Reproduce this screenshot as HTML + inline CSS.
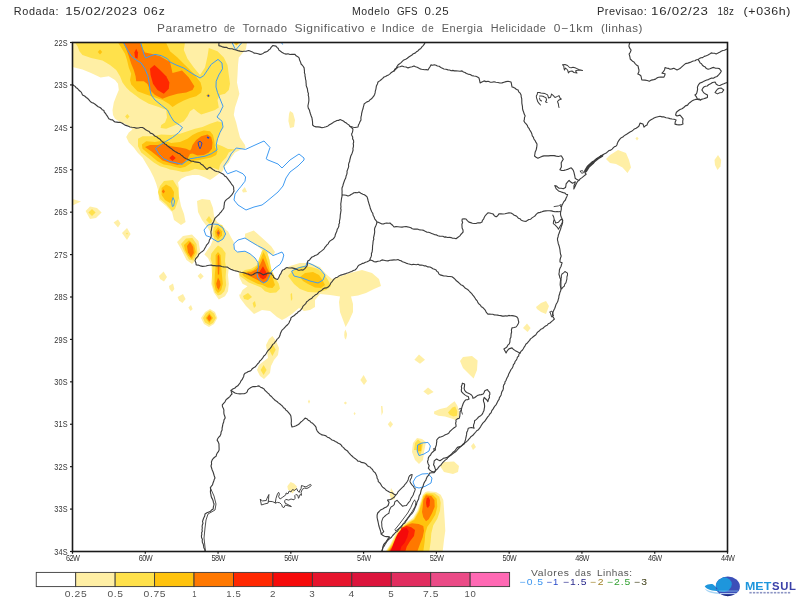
<!DOCTYPE html>
<html><head><meta charset="utf-8"><title>MetSul - Parametro de Tornado Significativo</title>
<style>html,body{margin:0;padding:0;background:#fff;}svg{display:block;}text{font-family:"Liberation Sans",sans-serif;}</style></head><body>
<svg width="800" height="601" viewBox="0 0 800 601">
<rect x="0" y="0" width="800" height="601" fill="#fff"/>
<defs><clipPath id="fr"><rect x="72.5" y="42.5" width="655" height="509"/></clipPath></defs>
<g clip-path="url(#fr)">
<polygon points="72.5,42.5 247.0,42.5 246.0,49.0 242.0,53.8 238.8,57.5 238.0,65.0 237.5,75.0 237.0,82.5 238.0,87.5 239.4,93.8 237.5,100.0 235.0,107.5 233.8,115.0 236.2,122.5 238.0,130.0 240.0,137.5 245.0,145.0 245.6,148.0 240.0,150.0 235.0,152.5 231.2,157.5 228.8,162.5 225.0,166.2 222.5,171.2 218.8,173.8 213.8,177.5 210.0,180.0 205.0,177.5 198.8,175.0 192.5,175.0 186.2,176.2 181.2,178.8 178.0,182.5 179.0,188.0 179.0,196.0 181.0,206.0 184.0,214.0 185.6,222.0 181.0,225.0 174.0,220.0 172.0,212.0 166.0,206.0 159.0,200.0 158.0,190.0 156.2,183.8 153.8,177.5 150.0,170.0 146.2,163.8 142.5,157.5 137.5,152.5 133.8,147.5 128.8,142.5 126.2,137.0 128.8,132.5 132.5,129.4 130.0,127.0 125.0,123.8 120.0,122.0 115.0,118.8 113.0,115.0 112.5,110.0 113.8,102.5 116.2,96.2 118.8,90.0 118.0,83.8 115.0,80.0 108.8,76.2 100.6,77.5 91.0,73.0 82.5,69.4 72.5,67.0" fill="#FFEFA5"/>
<polygon points="117.2,53.1 118.1,52.1 119.0,53.1 118.1,54.1" fill="#FFEFA5"/>
<polygon points="72.5,199.0 81.0,201.6 72.5,205.6" fill="#FFEFA5"/>
<polygon points="85.6,211.0 90.0,206.4 97.0,208.0 101.6,212.4 96.0,218.0 90.0,219.0" fill="#FFEFA5"/>
<polygon points="113.6,222.4 118.0,219.6 120.6,223.6 118.0,227.4" fill="#FFEFA5"/>
<polygon points="122.0,233.0 127.0,228.0 130.6,234.0 127.0,240.0" fill="#FFEFA5"/>
<polygon points="159.0,276.0 163.6,271.4 167.0,277.0 164.0,281.6 160.0,279.0" fill="#FFEFA5"/>
<polygon points="169.0,286.0 173.0,283.6 174.4,289.0 172.0,292.0 169.6,289.0" fill="#FFEFA5"/>
<polygon points="177.6,297.0 183.0,294.0 185.6,299.0 182.4,303.0 179.0,300.4" fill="#FFEFA5"/>
<polygon points="188.4,307.6 191.0,305.0 192.6,309.0 190.6,311.0" fill="#FFEFA5"/>
<polygon points="197.6,276.0 200.5,273.0 203.7,276.2 200.5,279.6" fill="#FFEFA5"/>
<polygon points="177.0,242.0 183.0,236.0 192.0,234.6 198.5,241.0 200.0,250.0 198.0,258.0 192.0,264.0 186.5,260.0 181.5,250.0" fill="#FFEFA5"/>
<polygon points="201.0,318.0 205.0,312.0 210.0,309.0 215.0,312.0 217.4,318.0 214.0,324.0 209.0,327.0 204.0,324.0" fill="#FFEFA5"/>
<polygon points="210.6,232.5 208.0,228.0 205.0,224.0 202.0,220.0 198.0,212.0 197.0,201.0 202.0,199.0 210.0,200.0 213.0,208.0 214.0,216.0 217.0,222.0 222.0,225.0 226.0,230.0 228.0,231.2 231.2,237.5 233.8,242.0 233.5,246.2 235.0,250.6 237.5,252.0 245.0,251.2 250.0,254.0 255.0,258.5 257.5,262.5 258.8,266.0 260.0,257.8 262.0,250.0 257.5,246.2 250.0,241.2 245.0,238.5 245.0,233.8 253.8,230.6 257.5,233.8 265.0,240.6 271.2,246.2 275.0,252.0 273.0,255.6 270.0,254.4 267.5,253.0 269.8,260.6 270.6,268.0 272.0,273.0 275.0,278.0 277.5,280.0 280.6,275.0 282.5,271.2 286.0,268.0 290.0,266.0 300.0,263.0 310.0,263.0 320.0,267.0 326.0,274.0 332.0,279.0 338.0,277.0 350.0,273.0 362.0,270.0 372.0,273.0 379.0,279.0 381.0,286.0 374.0,289.0 366.0,293.0 358.0,295.6 351.0,296.4 353.0,304.0 353.0,312.0 349.0,321.0 345.6,327.0 343.0,320.0 340.0,312.0 339.0,302.0 340.0,296.4 330.0,295.0 320.0,294.0 315.0,300.0 315.0,307.0 310.0,310.0 304.0,311.0 299.0,308.0 292.0,314.0 286.0,318.0 282.0,320.0 277.0,317.0 270.0,311.0 262.0,310.0 254.0,314.0 246.0,306.0 240.0,298.0 239.0,294.0 240.0,295.0 242.5,290.0 247.5,286.2 242.5,283.8 239.4,277.5 238.8,272.5 228.8,268.0 228.0,275.0 228.8,283.8 228.0,291.2 225.0,296.2 218.8,299.4 213.8,292.5 211.2,283.8 212.0,275.0 211.2,265.0 208.0,258.0 204.4,254.4 207.0,250.6 210.6,245.6 213.0,239.4" fill="#FFEFA5"/>
<polygon points="344.4,332.0 345.6,329.6 347.0,334.0 346.0,339.6 344.6,338.0" fill="#FFEFA5"/>
<polygon points="290.0,111.0 293.0,113.0 295.0,120.0 294.0,127.0 290.0,128.0 288.4,121.0 289.0,114.0" fill="#FFEFA5"/>
<polygon points="242.0,190.5 244.8,187.0 247.0,192.0 243.0,192.6" fill="#FFEFA5"/>
<polygon points="606.0,159.0 610.0,155.0 618.0,150.0 626.0,153.0 629.0,160.0 631.0,167.5 627.5,173.0 622.5,167.5 616.0,164.0 610.0,163.0" fill="#FFEFA5"/>
<polygon points="635.4,138.6 637.0,136.8 638.6,138.6 637.0,140.4" fill="#FFEFA5"/>
<polygon points="714.5,160.0 718.0,155.0 721.2,160.0 720.5,166.2 717.5,170.0 715.0,165.0" fill="#FFEFA5"/>
<polygon points="536.0,307.0 541.0,303.0 546.0,301.0 549.0,306.0 546.0,314.0 541.0,312.0 537.0,309.0" fill="#FFEFA5"/>
<polygon points="523.0,328.0 527.0,323.6 530.6,328.0 527.6,332.0" fill="#FFEFA5"/>
<polygon points="460.0,361.0 463.0,357.0 472.0,356.0 477.6,360.5 477.0,370.0 473.6,378.4 469.0,374.0 463.0,368.0" fill="#FFEFA5"/>
<polygon points="414.4,359.8 419.0,354.5 425.0,359.8 420.0,363.8" fill="#FFEFA5"/>
<polygon points="360.4,380.0 363.6,375.0 367.0,381.0 364.0,385.0" fill="#FFEFA5"/>
<polygon points="423.4,391.6 428.0,387.6 433.6,392.0 428.0,395.0" fill="#FFEFA5"/>
<polygon points="381.0,406.0 382.4,406.0 383.0,412.0 381.6,415.6" fill="#FFEFA5"/>
<polygon points="387.8,424.3 390.4,420.9 393.0,424.3 390.4,427.7" fill="#FFEFA5"/>
<polygon points="434.1,411.6 440.0,409.1 446.6,407.4 450.8,404.1 454.6,401.3 457.4,405.8 459.1,411.6 459.1,418.3 455.8,419.9 450.8,418.3 445.0,416.6 438.3,415.8 434.1,414.1" fill="#FFEFA5"/>
<polygon points="344.4,335.0 345.6,330.5 346.8,335.0 345.6,339.5" fill="#FFEFA5"/>
<polygon points="307.9,401.6 309.0,399.4 310.1,401.6 309.0,403.8" fill="#FFEFA5"/>
<polygon points="343.8,403.0 345.4,401.6 347.0,403.0 345.4,404.4" fill="#FFEFA5"/>
<polygon points="353.6,413.6 354.6,412.0 355.6,413.6 354.6,415.2" fill="#FFEFA5"/>
<polygon points="266.0,345.0 269.0,339.0 272.4,336.0 276.0,341.0 279.0,348.0 278.0,355.0 274.0,360.0 271.0,366.0 270.0,373.0 264.0,379.0 260.0,376.0 257.0,370.0 259.0,365.0 264.0,361.0 268.0,358.0 267.0,351.0" fill="#FFEFA5"/>
<polygon points="287.3,486.3 290.6,482.1 294.0,483.6 297.0,486.6 295.9,489.6 292.5,493.4 291.0,492.3 288.0,489.6" fill="#FFEFA5"/>
<polygon points="440.0,466.0 444.0,462.0 454.0,461.6 459.0,466.0 458.0,472.0 453.0,474.0 444.0,472.0" fill="#FFEFA5"/>
<polygon points="471.0,446.0 473.6,443.0 476.0,447.0 473.0,450.0" fill="#FFEFA5"/>
<polygon points="389.6,495.0 391.0,488.0 394.0,493.0 395.0,499.0 391.6,500.0" fill="#FFEFA5"/>
<polygon points="412.4,448.0 413.0,443.0 417.0,438.0 422.0,439.0 426.0,442.0 424.0,452.0 423.0,460.0 419.0,464.0 415.0,460.0 412.0,452.0" fill="#FFEFA5"/>
<polygon points="385.5,551.5 390.5,544.0 394.5,536.0 397.5,531.0 402.5,525.0 408.5,521.0 413.0,518.0 417.5,510.5 421.0,500.0 422.7,494.7 425.3,492.0 428.0,491.3 436.0,492.0 440.7,494.7 443.3,500.0 444.0,509.3 444.7,520.0 445.3,530.7 444.0,540.0 442.7,551.5" fill="#FFEFA5"/>
<polygon points="75.0,42.5 185.0,42.5 183.8,50.0 187.5,58.8 193.8,67.5 200.0,75.0 205.0,67.5 207.5,56.2 208.8,48.0 217.5,51.2 223.8,57.5 227.5,65.0 228.8,75.0 230.0,83.8 228.8,90.0 225.0,93.8 220.0,95.0 217.5,100.0 218.8,107.5 215.0,110.0 207.5,112.5 201.2,114.4 197.5,112.0 193.8,108.8 190.0,111.2 187.5,116.2 183.8,121.2 178.8,123.8 172.5,126.2 166.2,128.8 160.6,128.0 161.2,125.0 165.0,122.5 167.0,117.5 166.2,110.0 158.8,107.0 148.8,103.8 140.0,98.8 130.0,91.2 126.2,87.5 122.5,82.5 120.0,76.2 116.2,70.0 110.0,65.0 102.5,60.6 91.2,58.0 82.5,55.0 79.4,51.2 77.5,46.2" fill="#FFE14B"/>
<polygon points="138.0,138.8 142.5,136.2 152.5,136.2 161.2,134.4 171.2,135.0 180.0,133.8 187.5,131.2 195.0,128.8 202.5,127.0 210.0,123.8 217.5,121.2 222.0,122.5 222.5,127.5 220.0,132.5 217.5,138.8 216.2,143.8 222.5,146.2 228.0,149.0 235.0,149.3 228.8,152.5 226.2,157.5 222.5,161.2 220.0,165.0 218.8,170.0 212.5,167.5 207.5,170.0 201.2,170.0 195.0,168.8 188.8,171.2 182.5,172.0 176.2,170.6 170.0,169.4 166.2,168.0 160.0,166.2 153.8,162.5 147.5,157.5 141.2,152.5 138.0,146.2" fill="#FFE14B"/>
<polygon points="125.1,116.5 127.3,114.1 129.5,116.5 127.3,118.9" fill="#FFE14B"/>
<polygon points="160.0,186.0 164.0,181.0 173.0,180.0 178.0,188.0 179.0,198.0 175.0,209.0 172.0,211.0 166.0,204.0 160.0,199.0 158.0,192.0" fill="#FFE14B"/>
<polygon points="88.4,212.4 92.0,208.9 95.6,212.4 92.0,215.9" fill="#FFE14B"/>
<polygon points="126.1,233.6 127.0,232.7 127.9,233.6 127.0,234.5" fill="#FFE14B"/>
<polygon points="181.0,244.0 186.0,238.6 192.4,238.0 196.5,244.0 197.4,253.0 193.5,260.5 189.0,259.5 184.0,251.0" fill="#FFE14B"/>
<polygon points="203.0,318.0 206.0,313.0 210.0,310.4 214.0,313.6 216.0,318.0 213.0,323.0 209.4,325.0 205.0,322.4" fill="#FFE14B"/>
<polygon points="213.8,227.5 216.2,225.0 222.0,225.0 224.4,230.0 225.0,235.0 222.0,240.0 218.0,242.0 214.4,238.8 212.5,233.8" fill="#FFE14B"/>
<polygon points="206.0,220.0 209.0,216.0 212.4,221.0 210.0,224.0" fill="#FFE14B"/>
<polygon points="211.2,253.8 215.0,248.8 218.0,245.6 222.0,248.0 225.6,253.0 225.0,261.2 226.2,268.8 225.6,277.5 226.2,285.0 224.4,291.2 221.2,294.4 218.0,295.6 215.0,292.5 212.5,285.0 212.0,275.0 212.5,265.0 210.6,258.8" fill="#FFE14B"/>
<polygon points="239.4,273.8 245.0,270.0 251.2,268.8 257.0,265.0 259.4,257.5 262.0,251.2 263.5,248.8 267.0,252.0 269.4,260.0 271.2,268.8 275.0,277.5 278.8,283.8 280.0,288.8 276.2,292.5 270.0,293.0 265.0,291.2 261.2,287.5 255.0,285.0 248.8,282.5 243.8,278.8 240.0,276.2" fill="#FFE14B"/>
<polygon points="243.0,296.0 248.0,293.0 252.0,297.0 248.0,300.0 244.0,299.0" fill="#FFE14B"/>
<polygon points="252.6,303.0 255.0,301.0 256.0,306.0 254.0,308.0" fill="#FFE14B"/>
<polygon points="290.6,294.0 292.0,293.0 292.4,299.0 291.0,301.0" fill="#FFE14B"/>
<polygon points="288.0,276.0 294.0,269.0 302.0,266.0 311.0,267.0 318.0,269.0 324.0,274.0 328.0,280.0 331.0,286.0 326.0,290.0 318.0,292.4 308.0,292.0 300.0,289.0 294.0,284.0" fill="#FFE14B"/>
<polygon points="448.0,412.4 452.4,407.4 455.3,406.6 457.4,411.6 456.9,415.8 453.3,416.6 449.9,414.9" fill="#FFE14B"/>
<polygon points="269.1,349.8 272.4,343.6 275.7,349.8 272.4,356.0" fill="#FFE14B"/>
<polygon points="260.6,370.0 263.6,365.0 266.6,370.0 263.6,375.0" fill="#FFE14B"/>
<polygon points="414.0,450.0 415.0,443.0 418.0,439.6 421.0,442.0 423.0,443.0 422.0,450.0 420.0,456.0 417.0,450.0" fill="#FFE14B"/>
<polygon points="386.5,551.5 391.5,544.0 395.3,536.5 398.3,531.5 403.0,526.0 409.0,522.0 413.7,519.0 418.3,511.0 421.6,501.0 423.2,495.5 426.7,492.7 434.7,493.3 439.3,496.7 440.7,502.7 440.0,510.7 437.3,518.7 433.3,525.3 431.3,533.3 430.7,541.3 429.3,551.5" fill="#FFE14B"/>
<polygon points="233.5,42.5 239.5,42.5 236.3,45.6" fill="#FFC30D"/>
<polygon points="118.0,42.5 166.0,42.5 170.0,51.2 177.5,57.5 185.0,65.0 193.8,73.8 200.6,82.5 202.0,88.0 201.2,92.5 196.2,96.2 190.0,98.0 183.8,100.6 177.5,103.8 172.5,107.0 168.8,103.8 162.5,100.0 155.0,97.5 146.2,94.4 137.5,91.2 131.2,84.4 130.0,80.0 131.2,73.8 128.8,67.5 127.0,60.0 125.0,53.8 121.2,47.5" fill="#FFC30D"/>
<polygon points="141.9,144.5 146.2,141.2 155.0,142.0 163.8,140.6 171.2,143.0 180.0,142.0 187.5,138.8 192.5,135.0 197.5,132.5 203.8,130.6 210.0,131.2 213.0,135.0 214.4,141.2 215.0,147.5 217.5,151.2 216.2,155.0 211.2,157.5 205.0,158.8 198.8,160.0 195.0,160.6 190.0,163.8 185.0,167.0 180.0,168.0 175.0,167.0 170.0,165.6 163.8,164.4 157.5,161.2 150.0,155.0 142.5,148.8" fill="#FFC30D"/>
<polygon points="97.8,52.0 100.0,49.5 102.2,52.0 100.0,54.5" fill="#FFC30D"/>
<polygon points="206.2,95.6 208.2,93.6 210.2,95.6 208.2,97.6" fill="#FFC30D"/>
<polygon points="161.6,188.0 166.0,184.4 171.0,187.0 174.0,192.0 173.6,199.0 170.0,203.0 165.0,200.0 161.6,195.0" fill="#FFC30D"/>
<polygon points="184.0,245.0 189.0,240.2 194.2,245.0 195.8,252.0 192.0,259.2 188.0,255.5 185.0,250.0" fill="#FFC30D"/>
<polygon points="205.5,318.0 209.3,313.0 213.1,318.0 209.3,323.0" fill="#FFC30D"/>
<polygon points="215.0,231.2 218.0,227.0 222.0,231.2 222.0,235.6 218.0,239.4 215.6,236.2" fill="#FFC30D"/>
<polygon points="215.6,255.0 218.0,252.0 220.6,255.0 221.2,262.5 221.5,270.0 222.2,277.5 222.8,283.8 221.2,290.0 218.0,293.0 215.6,290.0 214.4,283.8 214.8,275.0 215.6,266.2" fill="#FFC30D"/>
<polygon points="242.0,273.8 247.5,271.2 253.8,269.4 258.0,265.0 261.2,257.5 263.5,252.0 265.6,256.2 268.0,263.8 270.0,271.2 272.5,277.5 275.0,285.0 272.5,288.0 267.5,287.5 262.5,285.0 257.5,283.8 252.5,281.2 247.5,278.8 243.8,276.2" fill="#FFC30D"/>
<polygon points="300.0,277.0 305.0,273.0 313.0,272.0 319.0,275.0 322.4,280.0 325.0,285.0 321.0,288.0 315.0,287.6 308.0,284.0 303.0,281.0" fill="#FFC30D"/>
<polygon points="417.0,452.0 417.6,445.0 420.0,443.0 421.6,445.0 421.0,451.0 419.0,451.0" fill="#FFC30D"/>
<polygon points="387.5,551.5 392.3,544.5 396.0,537.0 399.0,532.0 403.5,526.7 409.5,522.7 414.3,519.7 419.0,511.5 422.0,502.0 423.6,496.5 426.0,494.0 432.7,494.7 436.7,498.7 437.3,506.7 435.3,514.7 431.3,521.3 427.3,526.7 425.3,533.3 424.7,541.3 423.3,551.5" fill="#FFC30D"/>
<polygon points="123.0,42.5 140.0,42.5 142.5,48.8 145.0,52.5 151.2,53.8 160.0,56.2 170.0,62.0 172.5,73.0 182.0,70.6 188.8,77.5 194.4,86.2 192.5,90.0 186.2,92.5 177.5,93.8 168.8,96.2 162.5,98.8 155.0,95.0 150.0,90.0 147.5,84.0 143.8,81.2 136.2,81.2 135.6,76.2 133.8,70.0 131.2,63.8 128.8,56.2 126.2,48.8" fill="#FF7800"/>
<polygon points="145.0,147.0 150.0,145.0 157.5,145.0 163.8,143.8 171.2,146.2 180.0,147.5 186.2,148.8 190.0,150.5 191.2,149.0 192.5,145.0 196.2,140.0 201.2,136.2 207.5,134.4 211.2,137.0 212.5,142.5 212.0,148.8 208.8,152.5 203.8,155.0 197.5,155.6 192.5,153.5 190.0,154.0 187.5,158.8 182.5,163.8 177.5,165.0 170.0,163.0 162.5,160.6 157.5,156.2 151.2,151.2" fill="#FF7800"/>
<polygon points="161.8,191.4 163.4,189.2 165.0,191.4 163.4,193.6" fill="#FF7800"/>
<polygon points="187.0,246.0 190.0,241.8 193.2,247.0 193.8,253.0 191.0,257.4 188.0,252.5" fill="#FF7800"/>
<polygon points="207.0,318.0 209.3,314.4 211.6,318.0 209.3,321.6" fill="#FF7800"/>
<polygon points="216.5,232.5 218.2,229.4 220.4,232.8 218.2,237.0" fill="#FF7800"/>
<polygon points="217.6,256.0 218.6,254.5 219.4,257.0 219.5,266.2 219.1,274.5 217.9,274.5 217.6,266.2" fill="#FF7800"/>
<polygon points="216.2,283.8 218.0,277.5 220.0,281.2 220.6,285.0 218.8,290.0 217.0,287.5" fill="#FF7800"/>
<polygon points="245.0,273.0 251.2,272.0 256.2,269.4 260.0,265.0 263.0,258.0 265.0,262.5 267.0,268.0 269.4,272.5 270.0,276.2 268.0,280.0 265.0,282.5 262.5,283.0 257.5,280.0 252.5,277.5 247.5,275.0" fill="#FF7800"/>
<polygon points="422.7,506.7 423.3,500.0 426.0,495.3 431.3,496.0 434.4,500.0 434.7,506.7 432.0,513.3 428.7,519.3 426.0,521.3 423.3,517.3 422.0,512.0" fill="#FF7800"/>
<polygon points="388.5,551.5 393.0,545.0 396.7,537.5 399.7,532.5 404.0,527.3 406.0,525.3 412.0,523.3 418.7,524.0 423.3,526.0 424.0,530.7 422.7,537.3 420.0,544.0 417.3,551.5" fill="#FF7800"/>
<polygon points="134.4,52.5 136.2,48.8 138.0,52.5 137.5,58.8 135.0,57.5" fill="#FF2800"/>
<polygon points="150.0,68.8 154.4,65.0 160.0,70.0 166.2,76.2 169.4,82.5 168.8,88.8 163.8,93.8 157.5,90.0 153.0,83.8 150.6,75.0" fill="#FF2800"/>
<polygon points="169.3,158.0 172.5,155.0 175.7,158.0 172.5,161.0" fill="#FF2800"/>
<polygon points="258.0,273.8 260.6,270.0 263.0,266.2 265.0,270.0 267.5,274.4 265.6,278.0 263.0,279.4 260.0,277.5" fill="#FF2800"/>
<polygon points="426.0,502.7 426.7,498.0 428.7,497.3 430.0,500.0 429.6,505.3 428.0,508.0 426.7,506.7" fill="#FF2800"/>
<polygon points="389.5,551.5 393.7,545.5 397.3,538.0 400.3,533.0 401.3,527.8 406.7,526.0 411.3,527.3 415.0,530.0 414.0,536.0 410.0,541.3 406.7,546.7 405.3,551.5" fill="#FF2800"/>
<polygon points="390.7,551.5 393.3,544.0 396.0,537.3 398.0,533.3 402.0,528.7 406.7,528.0 408.7,531.3 407.3,537.3 404.7,542.7 401.3,546.7 400.0,551.5" fill="#F50A0A"/>
<polyline points="123.5,42.5 127.5,50.0 131.2,56.2 136.2,60.0 141.2,63.0 145.0,68.8 148.0,76.2 149.4,83.8 150.0,90.0 151.2,95.0 155.0,100.0 161.2,105.0 167.5,110.0 170.6,116.2 173.8,121.2 179.4,125.0 182.5,127.5 178.8,132.5 172.5,137.5 166.2,141.2 160.0,145.0 155.6,148.5 158.8,153.8 163.8,158.8 170.0,161.5 175.0,162.5 182.0,164.4 186.2,161.2 190.0,158.8 197.5,157.5 205.0,156.2 211.2,153.8 217.0,150.0 216.2,145.0 217.5,138.8 220.0,132.5 223.0,127.0 222.0,121.2 217.0,117.0 220.0,112.5 223.0,106.2 220.0,98.8 217.5,92.5 216.0,87.0 216.2,81.2 218.8,75.0 222.5,68.8 222.0,63.0 218.0,59.4 211.2,64.4 207.5,70.0 203.8,75.6 200.0,78.0 191.2,73.0 183.8,68.0 176.2,65.0 170.0,62.0 167.5,58.8 161.2,55.6 155.0,54.4 150.0,56.2 145.6,58.0 143.8,53.8 142.5,48.8 140.6,42.5" fill="none" stroke="#3F9BF2" stroke-width="1.0" stroke-linejoin="round"/>
<polygon points="245.6,149.4 236.2,148.0 231.2,153.8 228.0,160.0 223.8,166.2 225.0,170.0 227.5,173.8 236.2,170.6 243.0,173.8 245.6,177.0 245.0,181.2 241.2,186.2 238.0,190.0 235.0,194.0 234.0,200.0 238.0,205.0 246.0,210.0 254.0,207.0 262.0,205.0 266.0,202.0 272.0,197.0 278.0,192.0 283.0,186.0 286.0,178.0 290.0,172.0 298.0,166.0 304.0,160.0 304.0,158.0 299.0,154.0 290.0,160.0 287.0,163.0 282.0,168.0 278.0,164.0 268.0,160.0 266.2,158.8 270.0,147.5 264.0,141.0 254.0,145.5" fill="none" stroke="#3F9BF2" stroke-width="1.0" stroke-linejoin="round"/>
<polygon points="204.0,230.0 208.0,225.0 213.0,224.0 218.0,224.4 223.0,228.0 225.6,234.0 223.0,239.0 218.0,242.0 213.0,239.0 210.0,237.0 206.0,235.6" fill="none" stroke="#3F9BF2" stroke-width="1.0" stroke-linejoin="round"/>
<polygon points="233.8,243.8 238.0,240.0 245.0,238.0 250.0,241.2 257.5,245.6 263.8,248.8 270.0,253.0 273.0,255.6 277.5,253.8 282.0,252.0 283.8,255.0 282.5,260.0 280.0,264.4 275.0,268.0 271.2,272.0 270.0,275.0 267.0,281.2 263.5,283.0 260.0,280.6 257.5,277.0 257.0,273.0 258.5,267.5 258.0,262.5 255.0,258.0 250.0,253.8 245.0,251.2 237.5,252.0 234.4,249.4" fill="none" stroke="#3F9BF2" stroke-width="1.0" stroke-linejoin="round"/>
<polygon points="291.6,271.0 298.0,268.0 306.0,266.0 307.0,262.4 313.0,265.0 320.0,269.0 325.0,275.0 323.0,280.0 318.0,283.0 310.0,281.0 302.0,278.0 294.0,276.0" fill="none" stroke="#3F9BF2" stroke-width="1.0" stroke-linejoin="round"/>
<polygon points="171.6,202.0 173.0,197.6 174.6,201.0 173.6,206.0 172.4,206.5" fill="none" stroke="#3F9BF2" stroke-width="0.9" stroke-linejoin="round"/>
<polygon points="417.6,445.0 422.0,443.0 428.0,442.4 430.4,446.0 429.0,451.0 424.0,454.0 419.0,455.6 417.2,451.0" fill="none" stroke="#3F9BF2" stroke-width="1.0" stroke-linejoin="round"/>
<polygon points="413.0,482.0 416.0,477.0 422.0,474.0 428.0,473.6 432.0,478.0 431.0,483.0 425.0,486.4 419.0,488.0 415.0,487.0" fill="none" stroke="#3F9BF2" stroke-width="1.0" stroke-linejoin="round"/>
<polyline points="232.0,42.5 235.6,50.0 242.0,42.5" fill="none" stroke="#3F9BF2" stroke-width="1.0" stroke-linejoin="round"/>
<polyline points="281.5,42.5 282.6,44.5" fill="none" stroke="#3F9BF2" stroke-width="1.0" stroke-linejoin="round"/>
<polygon points="198.0,142.5 200.0,141.2 202.0,143.0 201.2,146.2 200.0,148.8 198.8,146.2" fill="none" stroke="#2446C8" stroke-width="1.0" stroke-linejoin="round"/>
<polyline points="207.0,137.2 209.2,137.9" fill="none" stroke="#2446C8" stroke-width="1.6" stroke-linejoin="round"/>
<polyline points="208.2,94.8 208.6,96.6" fill="none" stroke="#2446C8" stroke-width="1.6" stroke-linejoin="round"/>
<polyline points="218.2,232.6 218.3,233.4" fill="none" stroke="#2446C8" stroke-width="1.0" stroke-linejoin="round"/>
<polyline points="72.5,84.5 73.8,85.5 75.2,86.4 76.2,87.8 77.6,88.6 78.7,90.0 80.1,91.2 81.4,92.4 82.5,95.0 84.6,96.0 86.3,97.5 87.7,98.5 89.0,99.8 90.0,101.2 91.5,102.5 93.5,103.1 95.1,104.3 96.6,105.5 98.2,106.8 100.0,107.5 101.3,108.5 102.3,109.8 103.9,110.5 104.3,112.2 105.6,113.5 106.4,114.9 107.7,116.7 108.8,118.7 110.5,119.6 112.5,119.9 113.7,121.0 115.0,122.0 116.7,122.1 118.3,122.4 120.0,122.3 121.8,123.0 123.4,124.0 125.0,125.1 126.7,125.6 128.4,126.2 130.0,127.0 132.1,127.3 134.2,127.5 136.2,128.1 138.3,128.0 140.4,127.5 142.5,127.5 144.2,128.5 145.7,129.8 147.5,130.7 149.2,131.6 150.4,133.1 152.4,133.7 153.8,135.0 155.2,136.3 157.0,137.0 158.4,138.3 160.1,139.3 161.2,140.6 162.4,141.7 163.7,142.7 164.9,143.9 166.3,144.6 167.4,145.9 168.7,146.8 170.0,147.8 171.7,148.9 173.2,150.3 174.9,151.4 176.6,152.2 178.1,153.2 179.9,153.8 181.2,155.1 182.8,156.3 184.4,157.8 186.2,158.8 188.0,159.4 189.6,160.3 191.2,161.3 193.1,161.2 194.8,161.9 196.5,162.1 198.3,162.4 200.0,162.8 201.1,164.2 202.7,165.0 203.8,166.2 205.4,167.8 206.9,169.5 208.3,168.1 210.0,167.2 211.9,168.7 213.7,170.1 215.2,170.9 216.8,171.5 218.5,171.7 220.0,172.5 221.9,173.4 223.7,174.5 224.7,176.1 226.5,177.1 227.6,178.7 228.9,180.3 230.1,181.9 231.0,183.3 231.9,184.7 233.1,185.9 233.7,187.6 233.7,189.3 234.0,191.0 233.0,193.0 231.8,194.9 229.9,196.9 228.7,198.0 227.4,198.9 226.2,199.9 225.1,201.1 224.4,202.7 224.3,204.5 224.0,206.2 223.9,208.0 223.1,209.3 222.1,210.5 221.2,211.9 220.0,213.0 219.0,214.5 217.7,215.7 216.4,216.9 215.1,218.1 214.4,219.6 213.8,221.2 213.1,222.7 212.1,224.1 212.1,226.0 211.6,228.0 211.4,230.0 210.9,231.7 211.0,233.5 211.3,235.3 211.1,237.0 210.3,238.6 209.4,240.0 209.0,242.0 207.9,243.7 206.5,245.2 205.6,247.0 204.7,248.5 203.9,250.1 202.7,251.2 201.3,252.1 200.1,253.1 198.8,254.2 198.2,255.8 197.1,257.1 195.7,258.6 195.0,260.6 195.9,262.7 196.2,265.0 198.4,265.1 200.4,265.9 202.5,266.4 204.3,266.3 206.0,266.0 207.7,265.5 209.5,265.3 211.2,265.1 213.0,265.6 214.7,265.6 216.5,265.9 218.3,265.7 220.0,265.9 221.8,266.5 223.7,266.9 225.6,267.0 227.5,267.1 229.0,268.2 230.7,269.2 232.6,269.9 234.1,270.5 235.7,270.9 237.3,271.2 238.8,271.8 240.9,272.2 242.9,272.5 245.0,273.1 246.5,273.8 248.1,274.0 249.6,274.8 251.2,275.2 253.3,274.5 255.0,273.2 257.0,272.4 260.0,272.9 261.6,273.8 263.1,274.9 264.5,274.4 266.1,273.9 267.6,273.1 269.4,273.0 271.2,273.1 271.9,274.6 273.2,275.8 273.7,277.5 275.5,278.7 277.5,279.5 278.5,278.0 279.2,276.5 279.9,274.9 281.0,273.4 281.6,271.6 282.6,270.1 284.2,269.5 285.5,268.3 287.0,267.5 288.6,268.0 290.3,268.0 292.0,267.9 294.1,268.4 296.1,269.1 298.0,270.1 299.7,270.2 301.3,269.7 303.0,270.1 304.6,268.9 305.8,267.4 307.0,266.0 307.4,264.3 307.4,262.6 307.8,261.0 309.6,259.9 310.7,258.4 312.0,257.0 313.6,256.5 315.0,255.5 316.6,255.0 318.1,254.1 319.1,252.8 320.4,251.9 321.7,250.9 322.9,249.9 324.1,248.8 324.9,247.4 326.0,246.2 326.9,244.9 328.2,243.9 328.9,242.3 330.0,241.0 331.4,240.1 332.9,239.2 334.0,238.0 335.0,236.5 335.3,234.7 336.0,233.0 336.8,231.3 337.2,229.4 338.2,227.7 338.9,226.0 338.8,224.4 339.6,222.8 339.4,221.2 339.8,219.6 340.1,218.0 340.2,216.4 340.3,214.8 340.6,213.2 340.8,211.6 341.1,210.0 340.7,208.4 341.0,206.8 340.8,205.2 340.8,203.6 341.1,202.0 341.3,200.3 341.5,198.5 341.9,196.8 342.2,195.0 342.0,193.2 342.1,191.5 342.0,189.8 342.0,188.0 342.8,186.0 343.3,184.0 344.0,182.0 344.7,180.0 345.7,178.1 346.1,176.0 346.7,174.5 347.1,172.9 347.0,171.2 347.6,169.6 348.2,168.0 348.7,166.5 348.5,164.7 348.9,163.1 349.6,161.6 349.8,160.0 350.3,158.0 350.8,156.0 351.8,154.0 352.5,152.1 353.1,150.0 352.9,148.4 353.4,146.8 353.5,145.2 353.2,143.6 353.7,142.0 353.5,140.3 352.6,138.9 352.7,137.1 351.9,135.6 351.6,134.0 352.4,132.4 352.8,130.7 352.9,129.0 351.5,127.7 350.0,126.4" fill="none" stroke="#3c3c3c" stroke-width="1.12" stroke-linejoin="round" stroke-linecap="round"/>
<polyline points="219.0,42.5 218.8,45.6 220.7,46.1 222.5,46.9 224.4,47.4 226.3,47.3 228.1,48.2 230.0,48.7 232.1,48.8 234.0,49.5 236.0,50.0 238.0,50.6 240.0,51.1 242.0,51.5 244.0,51.3 246.0,51.2 248.7,50.5 250.6,51.2 252.4,51.9 254.0,53.1 256.0,53.3 258.1,53.7 260.0,54.4 261.6,54.1 263.1,53.4 264.4,52.4 266.0,51.9 267.5,51.3 268.7,50.0 270.0,49.1 271.3,47.1 272.9,45.5 276.0,46.1 277.0,47.3 278.3,48.5 278.9,50.1 280.6,51.3 282.2,52.6 284.1,53.5 286.0,54.1 288.0,53.8 290.0,54.5 291.7,54.4 293.3,54.3 295.0,54.4 296.1,55.8 297.8,56.7 299.1,57.9 299.6,60.0 300.5,61.9 301.1,64.0 302.2,65.2 303.3,66.5 304.1,67.9 304.3,69.6 304.5,71.2 304.4,72.8 305.0,74.4 305.0,76.0 305.4,77.6 305.5,79.2 306.0,80.8 306.0,82.4 306.2,84.0 306.2,85.6 306.8,87.2 307.4,88.7 307.6,90.4 307.8,92.0 308.5,93.6 308.2,95.2 308.7,96.8 308.8,98.4 308.9,100.0 308.7,102.0 308.3,104.0 307.9,106.0 308.3,108.1 309.4,110.0 309.9,112.0 310.5,114.0 311.2,116.0 312.0,118.0 312.2,119.7 312.5,121.5 312.6,123.2 312.6,125.0 314.1,126.2 316.0,126.9 318.0,126.9 320.0,127.1 322.0,127.7 324.1,127.3 326.0,126.7 328.0,125.9 329.4,124.8 330.9,123.9 332.5,123.0 333.9,121.9 335.5,121.3 336.9,120.5 338.6,120.4 340.1,119.6 341.7,120.3 343.4,121.0 344.9,122.2 346.3,123.0 347.6,124.1 349.0,125.0 350.0,126.4 351.7,126.8 353.3,127.2 355.0,127.5 358.0,127.0 358.4,125.1 359.3,123.4 360.0,121.6 361.0,120.0 360.9,118.4 361.0,116.8 361.5,115.2 361.6,113.6 362.0,112.0 362.4,110.4 363.0,108.8 363.3,107.2 363.8,105.6 364.1,104.0 365.5,102.9 366.9,101.9 368.7,101.3 369.9,99.9 371.5,98.8 372.7,97.4 373.9,95.9 374.6,94.5 375.1,92.9 375.3,91.2 375.8,89.6 376.1,88.0 376.4,85.9 377.4,84.0 378.0,82.0 379.7,80.9 381.1,79.7 382.7,78.4 384.0,77.0 385.6,76.5 387.1,75.6 388.6,74.9 390.0,73.9 391.1,72.7 392.5,71.8 394.0,71.0 394.8,69.3 396.2,68.1 397.0,66.5 398.0,65.0 399.6,63.8 401.1,62.6 402.5,61.2 403.9,59.9 405.7,59.2 407.3,58.2 408.8,57.0 410.4,56.0 412.0,55.1 413.3,53.7 415.1,53.1 416.4,51.8 417.9,50.9 419.2,49.5 420.8,48.5 421.9,46.9 423.2,45.6 424.3,44.2 425.0,42.5" fill="none" stroke="#3c3c3c" stroke-width="1.12" stroke-linejoin="round" stroke-linecap="round"/>
<polyline points="394.0,71.0 395.3,69.6 396.7,68.3 398.0,67.0 400.0,66.7 402.0,66.0 404.0,66.8 406.1,67.0 408.0,67.9 409.9,67.2 412.1,66.8 414.0,65.9 415.5,66.8 417.2,67.2 418.6,68.0 420.0,68.9 421.6,69.3 423.2,69.5 424.8,69.7 426.4,69.6 428.0,70.0 429.0,68.3 430.0,66.7 430.9,64.9 432.7,65.3 434.3,64.8 436.0,65.2 437.4,66.0 439.2,66.2 440.5,67.2 441.9,68.1 443.9,69.0 446.0,69.3 448.0,69.9 449.6,70.0 451.2,70.7 452.8,70.4 454.4,70.9 456.0,70.9 458.0,71.0 460.0,71.3 462.0,70.9 463.4,72.0 465.0,72.5 466.4,73.5 468.0,74.1 470.1,74.5 471.9,75.6 474.0,76.0 475.8,76.3 477.5,77.0 479.0,78.0 479.4,79.7 479.8,81.3 480.1,83.0 481.9,81.9 484.0,80.9 486.0,81.6 488.1,81.3 490.0,82.1 492.0,82.3 494.0,81.7 496.0,82.2 498.0,82.5 499.9,83.0 502.0,82.9 504.0,82.2 506.0,81.6 508.1,81.2 511.0,82.0 511.4,83.6 511.7,85.3 512.1,87.0 513.7,87.4 515.1,88.2 516.4,89.5 518.0,89.9 518.7,91.8 520.2,93.2 521.1,95.0 521.2,96.8 521.7,98.5 521.8,100.2 521.8,102.0 521.9,103.6 522.2,105.2 522.5,106.8 522.5,108.4 522.8,110.0 523.6,112.0 524.2,114.1 525.2,115.9 524.5,117.6 524.4,119.3 523.9,121.0 524.9,122.6 526.1,123.9 527.3,125.3 527.9,127.1 529.0,128.3 529.6,129.8 530.5,131.1 531.3,132.5 531.9,134.0 532.3,135.8 533.5,137.3 533.9,139.0 535.1,140.6 536.0,142.4 537.0,144.0 536.9,146.0 536.6,148.0 536.1,150.0 535.2,151.9 534.9,154.0 534.5,156.0 536.1,157.3 537.9,158.2 540.0,157.3 541.9,156.4 544.0,155.9 546.2,155.7 548.5,155.9 550.4,155.6 552.2,155.6 554.1,155.6 556.2,156.1 558.4,156.5 561.2,155.8 562.3,157.4 563.3,159.2 562.2,160.9 561.2,162.7 561.3,164.8 561.4,167.0 559.9,169.8 561.8,170.5 564.0,170.4 566.2,169.8 568.3,169.1 571.2,167.8 572.3,169.0 573.3,170.4 573.9,172.1 574.3,173.8 574.7,175.5 575.2,178.3 577.0,179.6 578.9,180.4" fill="none" stroke="#3c3c3c" stroke-width="1.12" stroke-linejoin="round" stroke-linecap="round"/>
<polyline points="342.0,195.0 344.1,195.0 346.1,195.3 348.0,196.1 349.6,195.5 351.0,194.5 352.5,193.8 353.9,192.8 355.7,192.6 357.4,192.7 359.0,192.1 360.9,193.2 362.9,194.2 364.4,194.8 365.8,195.8 367.1,196.9 367.7,199.0 368.2,201.0 368.8,203.1 369.3,204.8 369.9,206.5 370.3,208.3 371.0,210.0 371.7,211.8 372.8,213.4 373.1,215.3 374.1,217.0 374.7,218.8 375.9,220.4 377.1,222.0 378.8,222.4 380.4,223.2 382.0,224.0 383.6,223.9 385.2,223.3 386.8,223.1 388.4,223.2 390.0,223.0 391.4,224.3 392.8,225.5 394.0,227.0 396.0,226.6 398.0,226.8 400.0,227.0 402.0,227.1 404.0,226.7 406.0,226.5 407.6,226.9 409.3,227.2 410.9,227.8 412.3,228.8 414.0,229.1 415.6,229.1 417.2,229.0 418.8,229.6 420.4,229.9 422.0,230.0 423.7,230.4 425.2,231.3 426.7,232.1 428.5,232.2 430.1,232.8 431.6,233.4 433.2,234.0 434.8,234.7 436.5,234.9 438.0,235.7 439.6,236.1 441.2,236.2 442.8,236.2 444.3,237.1 446.0,236.9 447.6,237.5 449.4,237.3 451.0,237.6 452.6,238.3 454.4,238.2 456.0,238.8 458.0,237.3 459.9,235.9 460.8,234.5 461.9,233.3 463.1,232.0 463.0,229.9 462.1,228.0 462.0,226.0 461.9,224.2 462.6,222.5 462.0,220.7 462.2,219.0 464.2,218.7 466.0,219.0 467.3,220.7 468.9,222.1 470.7,222.6 472.4,223.2 474.2,223.5 476.0,223.5 477.9,222.8 480.1,222.9 482.0,222.1 482.4,220.3 483.6,219.1 484.2,217.5 485.0,216.0 486.4,214.4 487.9,212.9 489.7,213.0 491.4,213.5 493.0,213.9 494.3,215.7 496.1,216.9 497.7,215.7 498.9,213.9 501.0,213.8 503.0,214.0 505.0,213.7 507.0,213.3 509.0,212.9 511.0,213.0 512.7,213.9 514.2,215.3 516.1,215.9 517.3,216.9 518.3,218.2 520.0,218.7 521.0,220.0 522.6,220.8 524.3,221.3 526.1,221.4 527.3,220.4 528.8,219.5 530.7,219.2 532.0,217.9 533.6,216.9 535.2,215.7 536.4,214.2 537.9,212.9 540.1,212.4 541.9,211.8 543.8,211.1 545.7,210.9 547.6,210.8 549.4,210.8 551.3,210.9 553.2,211.4 555.1,211.7 557.0,211.6 558.8,211.8 560.5,211.5" fill="none" stroke="#3c3c3c" stroke-width="1.12" stroke-linejoin="round" stroke-linecap="round"/>
<polyline points="377.0,222.0 376.5,224.1 375.7,226.0 374.8,227.9 374.5,229.6 374.7,231.2 374.6,232.8 374.3,234.4 374.0,236.0 373.5,237.6 373.8,239.2 373.2,240.8 373.0,242.4 372.9,244.0 372.6,245.6 372.5,247.2 372.5,248.8 372.3,250.4 372.1,252.0 371.4,253.5 371.5,255.3 371.0,256.9 370.2,258.4 370.1,260.0 368.6,261.0 367.2,261.8 365.5,262.2 364.0,263.1 362.3,263.4 360.9,264.2 359.3,264.9 358.0,266.1 357.3,267.5 356.2,268.9 355.0,270.0 353.3,270.5 351.7,271.4 350.0,272.1 348.4,272.7 346.6,273.2 345.0,273.9 342.9,274.5 340.9,275.1 339.0,275.9 337.5,277.2 335.5,277.8 334.0,279.1 333.0,280.3 332.1,281.7 330.9,282.9 330.2,284.5 329.2,285.8 328.1,287.1 326.4,287.9 324.6,288.1 323.0,289.0 321.8,290.1 320.5,291.1 319.0,291.7 318.0,293.0 316.9,294.2 315.4,294.8 314.2,295.9 312.9,296.9 311.9,298.2 310.5,299.0 309.1,299.8 307.9,300.9 306.5,302.0 305.7,303.7 304.4,304.9 303.1,306.1 302.2,308.1 300.8,309.9 299.7,311.0 298.3,311.7 297.3,313.1 295.9,313.9 294.8,315.0 293.6,316.1 292.1,316.8 290.9,317.9 290.6,319.8 289.6,321.3 289.0,323.0 287.8,324.5 286.4,325.7 285.1,327.1 283.7,328.7 282.1,330.1 281.2,331.7 280.4,333.5 280.0,335.3 279.2,337.1 278.1,338.3 276.9,339.4 276.2,340.9 275.1,342.0 274.2,343.4 272.8,344.4 272.0,345.7 271.1,347.1 270.2,348.4 269.1,349.5 268.0,350.7 267.0,352.0 266.2,353.5 265.2,354.8 263.9,356.0 263.1,357.3 262.1,358.6 261.1,359.8 259.9,360.9 258.9,362.6 257.5,364.0 256.3,365.6 255.0,367.0 253.6,367.8 252.3,368.7 251.3,370.1 250.1,371.1 248.3,371.5 246.8,372.5 245.1,373.2 244.0,374.6 243.7,376.4 242.9,378.0 242.1,379.7 240.8,381.2 240.0,383.0 238.9,384.4 237.8,385.8 236.2,386.7 235.0,388.0 232.8,388.9 231.1,390.5 231.4,392.2 232.0,394.0 230.8,395.2 229.8,396.6 228.5,397.7 227.2,398.8 225.9,399.9 225.0,401.8 223.6,403.3 222.3,404.9 222.5,406.8 223.4,408.4 223.9,410.2 223.8,412.0 224.0,414.1 224.7,416.0 225.2,418.0 224.0,419.9 223.7,422.0 222.9,424.0 222.6,426.0 222.1,428.0 222.1,430.0 221.1,431.9 220.9,434.1 220.0,436.0 218.8,437.2 217.8,438.5 217.1,440.1 218.2,441.9 219.0,444.0 219.0,446.0 219.1,448.0 219.1,450.0 218.4,451.6 217.3,452.9 216.5,454.4 216.2,456.1 214.6,457.3 213.2,458.5 212.1,460.1 211.4,462.0 211.6,464.0 211.0,466.0 211.6,468.0 212.2,470.0 213.1,472.0 213.7,474.0 214.3,476.0 215.0,478.0 214.2,479.6 213.7,481.3 213.0,483.0 212.5,484.8 211.2,486.3 210.4,488.0 210.7,489.6 210.4,491.2 210.5,492.8 210.9,494.4 211.1,496.0 211.6,497.6 212.5,499.1 213.1,500.7 213.4,502.4 214.1,503.9 213.7,505.7 213.3,507.3 213.2,509.0 211.6,509.9 210.5,511.3 208.9,511.9 206.9,512.8 205.0,514.0 204.7,516.1 203.7,518.0 203.0,520.0 202.5,521.6 203.0,523.2 202.4,524.8 202.1,526.4 202.3,528.0 202.0,529.6 202.3,531.2 201.6,532.8 201.8,534.4 201.4,536.0 201.6,537.7 202.4,539.2 202.2,540.8 202.4,542.5 203.2,544.0 203.6,545.8 203.8,547.8 204.8,549.6 205.0,551.5" fill="none" stroke="#3c3c3c" stroke-width="1.12" stroke-linejoin="round" stroke-linecap="round"/>
<polyline points="210.4,488.0 214.0,496.0 216.0,504.0 215.0,510.0 208.0,514.0 206.0,520.0 205.0,528.0 204.0,538.0 205.5,551.5" fill="none" stroke="#3c3c3c" stroke-width="0.90" stroke-linejoin="round" stroke-linecap="round"/>
<polyline points="370.0,260.0 372.1,260.5 373.9,261.6 376.0,261.9 378.0,261.3 380.1,261.0 382.0,259.9 384.0,260.2 386.0,260.7 388.0,260.9 389.9,260.3 392.0,260.1 394.0,259.9 396.0,260.0 398.0,259.5 399.4,260.4 401.1,260.7 402.4,261.8 404.1,262.3 406.0,263.1 408.0,263.8 410.0,264.3 411.6,264.7 413.2,264.4 414.8,264.5 416.4,264.7 418.0,264.2 419.5,265.1 421.2,265.1 422.8,265.3 424.4,265.9 426.0,265.9 427.9,266.9 430.0,267.0 431.5,267.7 432.9,268.7 434.5,269.2 436.1,269.9 436.9,271.4 438.3,272.3 438.8,273.9 440.1,274.9 442.0,275.4 443.9,276.0 446.0,276.0 448.0,276.5 450.0,276.5 452.0,276.8 453.7,278.0 455.2,279.3 456.4,280.8 458.0,282.0 459.5,283.3 460.8,284.7 462.7,285.5 464.1,286.9 465.4,288.3 467.2,289.2 468.7,290.5 470.0,292.0 471.5,293.3 472.6,294.9 473.9,296.4 475.0,298.0 475.9,299.5 477.2,300.9 477.9,302.6 479.0,304.0 480.4,305.1 481.3,306.7 482.9,307.6 484.1,308.9 485.2,310.1 485.9,311.6 486.8,312.9 487.9,314.1 489.6,314.1 491.2,314.2 492.8,314.2 494.4,314.9 496.0,315.0 497.6,315.1 499.2,315.5 500.8,315.6 502.4,316.1 504.0,316.1 505.6,315.7 507.2,316.1 508.8,315.4 510.4,315.7 512.0,315.6 513.7,315.9 515.4,316.2 517.0,317.1 518.0,318.5 518.3,320.3 518.8,322.1 518.2,323.8 517.2,325.5 516.0,327.0 514.0,327.5 512.0,327.9 511.4,330.0 511.6,332.0 511.1,334.0 511.0,335.6 510.9,337.2 510.1,338.8 510.0,340.4 509.9,342.0 509.3,343.9 507.8,345.2 506.9,347.0 505.5,348.0 503.9,348.9 505.0,351.0 506.1,353.0 506.8,351.5 507.8,350.2 508.9,348.9 512.0,347.9 513.2,349.2 514.6,350.1 515.9,351.1 517.9,352.1 520.0,353.0" fill="none" stroke="#3c3c3c" stroke-width="1.12" stroke-linejoin="round" stroke-linecap="round"/>
<polyline points="231.0,390.4 233.0,391.7 235.0,393.0 236.6,393.5 238.3,393.7 240.0,393.9 242.0,393.8 244.1,393.7 246.0,392.9 247.2,391.8 247.7,390.1 248.9,388.9 250.9,387.5 253.1,386.5 255.0,386.6 257.0,386.3 259.0,385.9 260.5,387.2 262.4,387.9 264.1,388.9 265.0,390.5 266.4,391.6 267.6,392.9 269.0,394.0 270.0,395.5 271.5,396.5 272.6,397.9 273.9,399.1 275.3,400.5 277.0,401.5 278.4,402.9 280.0,404.0 281.3,405.1 282.6,406.2 283.5,407.7 285.0,408.6 285.9,410.1 287.5,411.3 288.8,412.8 290.0,414.3 290.9,416.1 291.1,417.8 291.3,419.5 291.4,421.2 291.2,423.0 291.4,425.0 292.0,427.0 294.0,426.5 296.1,425.8 297.9,424.8 299.4,423.7 300.6,422.3 302.1,421.1 303.7,419.7 305.1,418.1 306.8,418.7 308.2,420.2 309.9,421.1 311.0,422.5 312.7,423.3 313.9,424.6 315.1,425.9 316.1,427.3 316.3,429.1 317.0,430.6 318.0,432.0 319.2,433.2 320.6,434.1 322.0,434.9 324.1,435.2 326.0,435.9 327.4,437.2 329.1,437.8 330.6,438.9 332.0,440.0 333.8,440.5 335.3,441.4 336.9,442.3 338.3,443.3 340.0,444.0 341.3,445.1 342.2,446.6 343.6,447.6 344.6,449.0 346.0,450.0 347.5,450.9 348.4,452.4 349.6,453.6 350.7,454.9 352.0,456.0 353.4,457.4 355.0,458.5 356.6,459.6 357.9,461.1 359.7,461.3 361.1,462.4 362.9,462.6 364.5,463.0 366.0,463.9 367.2,465.3 368.4,466.5 370.1,467.0 371.2,468.4 372.5,469.5 373.5,471.4 375.2,472.8 376.2,474.7 376.9,476.4 377.1,478.2 378.1,479.7 378.3,481.6 379.8,482.9 380.9,484.4 381.8,486.1 383.0,487.5 384.7,488.5 385.9,490.0 387.6,491.1 389.7,492.2 392.0,492.8 393.7,494.0 395.7,495.0 394.2,497.2 392.4,498.4 390.5,499.5 387.5,500.1 389.1,502.4 388.1,505.5 386.5,506.9 384.6,507.8 382.7,509.0 380.6,509.9 379.2,511.5 377.7,513.0 377.1,515.2 377.1,517.5 377.5,519.5 378.0,521.5 378.4,523.5 378.8,525.5 379.4,527.5 380.1,529.5 380.7,531.7 381.3,534.0 382.7,535.3 384.5,536.3 386.2,536.6 388.0,536.5 389.7,537.0 388.3,538.4 387.2,540.0 386.1,541.6 385.0,543.0 383.8,544.3 383.1,546.1 382.8,547.9 382.3,549.7 381.8,551.5" fill="none" stroke="#3c3c3c" stroke-width="1.12" stroke-linejoin="round" stroke-linecap="round"/>
<polyline points="395.7,495.0 397.2,493.7 398.0,491.8 399.4,490.4 400.9,488.9 402.4,487.4 404.0,486.0 404.8,484.6 405.9,483.4 406.9,482.1 408.1,480.1 408.6,477.7 409.4,476.0 410.8,474.8 412.2,474.5 411.5,477.7 410.4,479.5 409.9,481.5 410.9,483.4 412.2,485.2 413.4,486.3 414.1,487.8 415.3,488.9 414.7,491.1 413.8,493.0 413.2,495.1 412.3,496.5 411.3,497.9 410.6,499.4 410.0,501.0 408.7,502.4 407.5,504.0 406.3,505.6 404.3,505.8 402.5,506.2 401.1,504.6 399.6,503.1 398.3,501.7 397.2,500.2 394.9,501.6 394.2,504.7 392.8,506.0 391.1,506.9 390.2,508.4 389.6,510.0 389.2,511.6 388.9,513.3 387.4,514.1 386.0,515.2 384.5,516.5 383.0,517.9 382.2,519.9 381.6,522.1 381.8,524.0 381.8,526.0 382.1,528.0 382.9,529.9 383.8,531.7 382.5,532.9 381.2,534.0" fill="none" stroke="#3c3c3c" stroke-width="1.01" stroke-linejoin="round" stroke-linecap="round"/>
<polyline points="414.5,500.2 416.0,501.7 415.2,506.2 412.2,511.5 408.5,516.7 404.0,522.7 399.5,528.0 395.7,531.0 395.0,529.5 398.7,525.0 403.2,519.0 407.7,513.0 410.7,507.7 413.0,502.5 414.5,500.2" fill="none" stroke="#3c3c3c" stroke-width="0.90" stroke-linejoin="round" stroke-linecap="round"/>
<polyline points="727.5,82.5 725.6,83.0 723.8,83.8 721.8,84.6 719.9,85.5 718.1,85.2 716.3,84.3 715.1,82.0 712.5,82.5 710.6,83.8 708.6,84.8 707.2,86.0 705.4,86.3 703.8,87.1 702.7,88.4 701.9,89.9 702.9,91.5 703.9,92.9 705.6,94.0 707.5,95.0 707.4,97.5 705.6,98.1 703.7,98.7 702.1,99.1 700.6,100.0 697.5,99.4 695.6,99.4 693.8,100.1 691.8,101.1 690.0,102.5 688.6,103.6 687.6,105.1 685.4,105.9 683.8,107.5 682.0,108.8 680.0,109.5 678.2,110.8 676.4,112.2 675.6,115.0 677.0,116.0 680.0,115.1 681.1,116.3 682.1,117.6 683.1,118.9 682.8,120.7 682.7,122.3 683.0,124.0 681.1,124.7 679.0,124.9 677.0,124.6 675.0,124.1 675.2,121.9 676.1,120.0 674.1,119.3 672.0,119.0 670.0,118.6 668.0,118.0 666.0,117.7 664.1,116.9 662.0,116.9 660.0,116.3 657.9,116.7 655.9,117.2 654.0,118.0 652.4,119.1 650.6,120.0 649.1,121.1 647.8,122.9 647.0,125.0 645.4,125.8 644.0,127.1 643.0,124.0 640.0,123.1 639.0,126.0 637.6,127.2 636.1,128.2 634.4,128.9 633.1,130.1 631.6,131.2 630.0,132.1 628.5,133.0 627.0,134.0 625.4,134.9 624.0,135.9 622.8,137.1 621.3,137.7 620.1,138.8 619.1,140.1 618.1,141.6 617.4,143.2 616.9,145.0 615.9,146.2 614.3,146.8 613.2,147.9 612.1,149.1 610.8,150.1 609.1,150.5 607.8,151.6 606.5,152.7 605.2,153.6 603.7,154.3 602.3,155.3 600.7,155.8 599.5,157.0 598.1,157.9 596.6,158.6 595.4,159.7 594.4,161.1 592.9,161.9 591.5,163.4 590.0,164.7 588.8,166.3 587.2,167.9 585.9,169.7 584.9,172.6 586.1,174.2 583.8,176.1 582.0,177.6 580.2,178.9 578.9,180.4 577.4,181.7 576.4,183.6 575.5,185.4 574.7,187.2 573.8,189.0 574.0,187.3 574.0,185.6 574.7,184.0 575.3,181.8 574.0,182.5 572.5,183.2 570.4,181.8 569.1,180.3 567.7,181.9 566.1,183.9 565.9,185.8 565.5,187.5 563.3,188.8 561.2,188.3 559.1,188.2 557.7,187.2 556.4,186.0 554.8,185.5 555.5,187.2 556.3,188.9 558.5,190.9 560.0,191.5 561.6,192.1 563.3,192.6 564.8,193.0 566.0,194.2 567.6,194.6 566.9,196.4 566.1,198.0 565.4,200.0 563.9,201.6 562.9,203.4 562.0,205.2 561.3,207.3 561.3,209.4 560.9,211.2 560.5,213.0 560.6,215.1 561.3,217.2 562.6,220.0 562.6,222.9 561.9,225.0 561.1,227.1 560.6,229.2 559.7,231.3 559.2,233.1 558.4,234.9 558.1,236.7 557.5,238.5 557.5,240.2 558.0,241.8 558.2,243.4 558.8,245.0 559.3,246.6 559.7,248.3 560.0,250.0 560.2,252.0 560.5,254.0 561.2,256.0 560.5,258.0 560.0,260.0 560.0,262.0 562.1,262.8 561.5,264.7 561.0,266.5 560.1,268.0 559.4,269.9 559.3,272.0 558.9,274.0 559.5,276.1 560.0,278.1 561.0,280.0 560.9,281.8 560.9,283.6 560.9,285.4 560.9,287.2 560.9,289.0 560.7,290.8 559.9,292.5 559.5,294.3 558.9,296.0 558.8,297.8 558.2,299.6 557.8,301.3 556.9,303.0 556.0,304.6 555.4,306.5 554.8,308.3 553.9,310.0 553.1,311.9 552.6,314.0 552.1,316.0 553.3,317.4 554.4,319.0 553.0,320.4 551.5,321.7 550.0,323.0 548.3,323.7 547.2,325.3 545.5,326.0 544.1,327.1 542.7,328.5 540.8,329.3 539.5,330.7 537.9,331.9 536.8,333.2 535.9,334.7 534.5,335.7 533.2,336.8 531.9,337.9 530.5,338.9 529.6,340.4 528.4,341.6 527.4,343.0 526.0,344.0 525.2,345.6 524.2,347.1 523.3,348.7 522.3,350.2 520.9,351.4 520.1,353.1 518.9,354.2 518.7,356.0 517.4,357.1 517.0,358.7 516.2,360.1 515.1,361.5 514.6,363.3 513.4,364.7 513.0,366.5 512.2,368.1 511.0,369.5 510.3,371.1 509.4,372.7 508.6,374.3 508.1,376.1 507.2,377.5 506.5,378.9 506.0,380.5 505.0,381.9 504.8,383.6 503.8,384.9 503.3,386.6 503.4,388.4 502.9,390.1 501.9,391.6 501.4,393.3 501.1,394.9 500.3,396.4 499.4,397.7 499.1,399.4 498.1,400.7 497.2,402.5 496.4,404.3 495.1,405.8 494.0,407.4 493.0,409.1 491.8,410.7 491.2,412.6 489.8,414.0 488.9,415.6 487.7,416.9 486.7,418.4 485.7,419.9 484.8,421.3 483.5,422.4 482.4,423.7 481.5,425.1 480.7,426.6 479.6,428.2 478.5,429.7 476.7,430.7 475.6,432.3 474.4,433.4 473.5,434.8 472.2,435.8 470.8,436.8 469.8,438.1 468.7,439.3 467.7,440.6 466.5,441.7 465.1,442.6 464.1,444.0 462.6,445.1 461.1,446.4 459.6,447.5 458.2,448.9 456.9,450.4 455.6,451.8 454.0,452.9 452.4,454.0 450.9,455.2 449.3,456.3 447.9,457.5 446.7,459.1 445.2,460.1 443.9,461.3 442.7,462.6 441.6,464.0 440.7,465.4 439.3,466.3 438.3,467.6 437.4,469.0 436.1,469.9 435.2,471.4 434.1,472.6 431.7,472.8 429.5,473.1 428.7,475.1 427.3,476.6 426.4,478.4 425.9,480.1 424.9,481.5 424.1,482.9 423.5,484.5 423.1,486.1 422.5,487.6 421.6,488.9 421.1,490.5 420.7,492.2 420.4,493.9 419.3,495.5 418.9,497.2 418.6,499.0 417.8,500.6 417.0,502.2 416.6,504.0 415.9,505.7 415.2,507.4 414.4,509.0 413.8,510.7 412.8,512.3 411.6,513.8 410.2,515.1 409.2,516.7 408.1,518.0 407.2,519.5 406.1,520.8 405.3,522.3 404.1,523.6 402.7,524.4 402.0,526.0 401.0,527.3 399.7,528.2 398.6,529.4 397.4,531.2 395.6,532.4 394.2,534.0 392.7,535.5 391.5,537.3 389.8,538.6 388.2,539.8 387.0,541.3 386.0,543.0 385.0,544.5 384.2,546.1 382.9,547.4 382.5,549.5 381.8,551.5" fill="none" stroke="#3c3c3c" stroke-width="1.12" stroke-linejoin="round" stroke-linecap="round"/>
<polyline points="585.6,171.0 588.3,166.6 593.0,162.3" fill="none" stroke="#3c3c3c" stroke-width="3.14" stroke-linejoin="round" stroke-linecap="round"/>
<polyline points="593.0,162.3 598.0,158.4 602.2,155.8" fill="none" stroke="#3c3c3c" stroke-width="2.24" stroke-linejoin="round" stroke-linecap="round"/>
<polyline points="630.0,42.5 629.3,44.2 628.9,46.0 629.7,48.2 631.1,50.0 630.3,52.2 629.1,54.1 629.6,55.6 630.0,57.3 630.2,59.0 631.3,60.0 632.5,61.2 634.0,62.0 635.1,63.6 636.4,64.9 638.1,65.9 638.4,68.0 639.0,70.0 638.8,72.1 637.8,74.0 639.6,74.8 641.0,76.0 641.4,78.0 641.8,80.0 645.0,80.1 647.2,80.5 649.4,81.2 651.5,80.1 653.8,79.6 655.5,79.1 657.0,77.9 658.7,77.3 660.4,77.1 662.1,77.1 663.8,77.2 664.7,75.5 665.1,73.8 662.0,73.2 663.4,71.6 664.5,70.0 665.1,67.5 667.0,68.2 668.6,68.4 670.1,69.3 671.9,68.9 673.8,68.2 675.3,69.1 677.0,69.9 678.5,69.2 679.9,68.5 681.2,67.4 682.6,66.1 684.0,64.9 685.5,63.6 687.8,63.1 690.0,62.4 691.6,61.7 693.2,61.0 695.0,60.7 696.4,59.7 698.0,59.5 699.4,58.6 700.9,57.8 702.6,57.6 704.3,56.4 706.3,55.7 708.0,55.0 709.7,54.1 711.2,52.9 712.9,53.2 714.6,53.2 716.2,53.9 718.0,53.1 719.6,52.2 721.2,51.2 722.8,50.5 724.5,50.2 725.9,49.4 727.5,48.8" fill="none" stroke="#3c3c3c" stroke-width="1.12" stroke-linejoin="round" stroke-linecap="round"/>
<polyline points="698.0,59.4 699.2,61.1 700.1,62.9 701.5,63.8 702.4,65.3 703.7,66.3 705.3,67.1 706.4,68.6 708.1,69.3 709.9,68.7 711.8,67.9 713.7,67.4 715.6,68.2 717.5,68.2 719.4,68.6 721.3,71.2 720.1,73.2 718.6,74.9 717.0,76.5 714.9,77.3 713.4,78.2 711.6,78.0 710.0,78.7 708.4,79.6 706.7,80.0 705.0,80.7 703.4,81.6 701.8,82.4 700.0,83.0 698.8,84.3 698.0,85.8 697.4,87.4 697.6,89.2 697.3,90.8 696.9,92.5 696.3,94.0 694.9,94.9 696.4,96.8 697.3,98.9 699.2,99.0 700.6,100.0" fill="none" stroke="#3c3c3c" stroke-width="1.12" stroke-linejoin="round" stroke-linecap="round"/>
<polyline points="715.0,92.5 716.2,90.9 717.4,89.3 719.2,88.3 721.3,88.1 722.5,89.0 723.8,89.9 722.0,92.5 719.7,92.8 717.5,93.9 715.0,92.5" fill="none" stroke="#3c3c3c" stroke-width="1.01" stroke-linejoin="round" stroke-linecap="round"/>
<polyline points="580.3,171.2 582.4,170.5 583.8,172.6 581.7,173.3 580.3,171.2" fill="none" stroke="#3c3c3c" stroke-width="0.90" stroke-linejoin="round" stroke-linecap="round"/>
<polyline points="554.1,206.6 558.4,205.9 561.2,204.5 560.5,206.6" fill="none" stroke="#3c3c3c" stroke-width="0.90" stroke-linejoin="round" stroke-linecap="round"/>
<polyline points="552.7,215.1 553.7,217.1 554.2,219.3 553.5,221.4 553.3,223.6 555.0,224.8 556.4,226.3 557.6,227.6 558.4,229.2 559.3,227.8 560.1,226.3 561.1,224.9 562.0,222.9 562.7,220.7 561.3,219.2 559.8,220.7 558.5,222.2 555.6,223.1 555.0,221.0 554.1,219.3" fill="none" stroke="#3c3c3c" stroke-width="1.01" stroke-linejoin="round" stroke-linecap="round"/>
<polyline points="562.0,274.0 563.6,272.9 564.9,271.5 567.5,273.1 567.5,275.0 566.9,277.0 566.9,279.0 566.4,280.8 566.0,282.6 564.8,284.1 564.4,286.0 562.8,287.3 561.7,289.1 560.6,287.1 560.1,285.0 560.2,283.0 560.4,281.0 561.0,279.0 561.4,277.3 561.3,275.6 562.0,274.0" fill="none" stroke="#3c3c3c" stroke-width="1.01" stroke-linejoin="round" stroke-linecap="round"/>
<polyline points="550.0,312.0 552.0,311.0 553.6,316.0 551.6,317.0 550.0,312.0" fill="none" stroke="#3c3c3c" stroke-width="0.90" stroke-linejoin="round" stroke-linecap="round"/>
<polyline points="462.4,383.3 461.9,385.0 461.3,386.6 461.7,388.2 461.3,389.9 461.5,391.6 463.1,393.4 464.9,394.9 466.5,395.9 468.3,396.6 469.0,399.1 467.5,399.8 465.8,399.8 464.3,401.4 463.3,403.3 462.7,405.0 462.1,406.6 461.6,408.3 461.4,410.1 460.1,411.5 460.0,413.3 459.9,415.0 459.7,416.7 459.2,418.3 457.3,418.9 455.9,420.1 456.1,421.6 455.6,423.2 456.0,424.9 456.0,426.6 454.1,427.8 452.4,429.1 451.1,430.3 449.8,431.5 448.9,433.1 447.4,434.0 445.3,434.7 443.4,435.9 441.3,436.8 439.1,437.4 437.8,438.6 436.7,440.0 436.8,441.6 436.5,443.2 436.4,444.9 435.8,446.5 435.2,448.2 435.1,449.9 433.3,451.5 431.5,453.1 430.6,455.0 429.1,456.4 428.3,458.1 428.1,459.9 427.5,461.5 428.1,463.7 429.2,465.7 428.3,468.2 429.9,470.1 431.9,471.6 434.0,472.0" fill="none" stroke="#3c3c3c" stroke-width="1.12" stroke-linejoin="round" stroke-linecap="round"/>
<polyline points="462.4,383.3 464.6,384.0 464.5,386.2 464.1,388.3 464.6,390.1 465.7,391.7 467.3,392.7 469.0,393.4 471.5,395.0 472.6,396.5 472.9,398.3 474.5,397.7 475.8,396.7 477.3,395.6 479.1,394.9 481.2,394.6 483.2,394.0 484.1,392.5 484.8,390.7 487.4,389.6 488.5,391.1 489.7,392.4 489.9,394.2 489.2,395.8 489.5,397.5 488.4,399.4 487.9,401.6 487.0,400.2 485.8,399.0 484.2,397.4 483.4,400.0 483.6,401.6 484.3,403.2 484.5,404.9 484.6,406.9 484.2,408.8 483.9,410.8 483.2,412.1 482.6,413.6 481.6,414.9 480.2,416.1 478.6,416.9 477.5,418.4 476.1,419.6 474.6,420.7 474.4,422.9 473.6,424.9 473.5,426.6 474.1,428.2 471.6,427.5 470.0,427.8 468.3,428.2 467.7,430.4 466.7,432.5 466.6,434.4 466.2,436.3 465.8,438.2 465.4,439.9 464.9,441.6 464.2,443.3 462.4,444.8 460.7,446.4 459.1,446.9 457.4,447.4 456.1,449.0 455.0,450.8 453.1,452.2 451.6,454.0 450.2,455.1 448.8,456.2 447.5,457.4 445.4,457.9 443.3,458.3 441.8,459.6 440.0,460.7 438.3,459.9 436.6,459.0 434.2,460.9 434.0,462.8 433.5,464.8 434.5,466.4 435.0,468.2 435.8,470.0 434.0,472.0" fill="none" stroke="#3c3c3c" stroke-width="1.12" stroke-linejoin="round" stroke-linecap="round"/>
<polyline points="459.1,409.1 460.8,408.3 461.6,411.6 462.4,414.1" fill="none" stroke="#3c3c3c" stroke-width="0.90" stroke-linejoin="round" stroke-linecap="round"/>
<polyline points="433.8,448.7 435.4,448.7 435.4,450.3 433.8,450.3 433.8,448.7" fill="none" stroke="#3c3c3c" stroke-width="0.78" stroke-linejoin="round" stroke-linecap="round"/>
<polyline points="540.5,105.0 538.6,102.9 537.6,101.3 537.1,99.5 536.5,97.8 536.3,96.0 537.3,94.3 537.5,92.5 539.3,92.4 541.0,93.0 543.0,93.2 545.0,93.6 547.6,94.9 548.6,98.0 550.6,97.2 551.6,94.0 553.6,95.9 555.0,97.5 557.5,96.4 559.0,95.6 560.0,98.0 561.4,99.1 559.0,99.9 557.5,101.5 558.4,104.0 558.6,105.8 559.0,107.5" fill="none" stroke="#3c3c3c" stroke-width="1.01" stroke-linejoin="round" stroke-linecap="round"/>
<polyline points="539.5,96.0 541.3,96.1 543.0,96.3 544.4,97.0 545.9,97.6 546.6,100.0 545.4,101.9 547.0,102.5" fill="none" stroke="#3c3c3c" stroke-width="1.01" stroke-linejoin="round" stroke-linecap="round"/>
<polyline points="539.5,98.0 540.0,100.0 541.5,101.0" fill="none" stroke="#3c3c3c" stroke-width="1.01" stroke-linejoin="round" stroke-linecap="round"/>
<polyline points="562.5,64.8 565.0,64.6 567.5,65.5 569.5,67.5 571.3,67.7 573.0,67.2 575.0,67.8 577.0,68.6 578.7,69.4 580.6,69.9 582.5,70.5 580.7,70.3 579.0,70.0 577.2,70.2 575.5,70.9 577.0,73.0 574.0,72.5 572.0,71.0 569.5,71.6 568.4,72.9 567.6,70.0 565.5,68.0 564.5,70.0 564.0,68.3 563.9,66.5 562.5,64.8" fill="none" stroke="#3c3c3c" stroke-width="1.01" stroke-linejoin="round" stroke-linecap="round"/>
<polyline points="260.3,499.4 261.4,505.0 264.8,503.9 268.1,503.1 268.5,499.8 268.9,494.5 267.0,498.3 266.3,500.5 262.5,500.9 260.3,499.4" fill="none" stroke="#3c3c3c" stroke-width="0.95" stroke-linejoin="round" stroke-linecap="round"/>
<polyline points="268.5,501.3 272.3,501.6 275.3,502.8 276.0,498.3 277.5,493.8 278.6,492.3 279.4,494.1 278.6,496.8 280.1,499.0 282.8,497.1 285.8,494.9 286.1,493.0 288.0,493.8 289.1,491.1 291.0,491.9 292.5,489.6 294.8,490.4 296.6,488.5 297.8,491.1 299.3,492.3 300.0,490.0 301.1,488.5 301.5,485.5 303.8,486.3 306.0,487.0 308.3,485.5 310.5,484.4 311.3,485.5 309.0,487.4 306.8,488.5 304.5,488.1 302.3,489.3 301.1,492.3 301.5,495.3 300.0,494.5 299.3,496.8 298.5,498.3 297.8,495.3 295.9,494.5 294.8,495.6 295.1,498.3 294.0,499.8 291.0,499.0 288.8,500.1 285.8,499.4 284.6,500.9 285.0,503.1 288.0,504.6 291.4,506.5 288.0,505.8 285.4,505.0 283.9,507.6 282.4,506.9 281.6,504.6 279.8,502.8 277.5,502.4 275.3,503.1" fill="none" stroke="#3c3c3c" stroke-width="0.95" stroke-linejoin="round" stroke-linecap="round"/>
</g>
<rect x="72.5" y="42.5" width="655" height="509" fill="none" stroke="#1a1a1a" stroke-width="1.6"/>
<g opacity="0.999">
<text transform="translate(13.80,15.00) scale(0.948,1)" font-size="11.5" fill="#2b2b2b" font-weight="normal" letter-spacing="0.630">Rodada:</text>
<text transform="translate(65.20,15.00) scale(1.149,1)" font-size="11.5" fill="#2b2b2b" font-weight="normal" letter-spacing="0.556">15/02/2023</text>
<text transform="translate(143.50,15.00) scale(1.053,1)" font-size="11.5" fill="#2b2b2b" font-weight="normal" letter-spacing="0.805">06z</text>
<text transform="translate(352.00,15.00) scale(0.915,1)" font-size="11.5" fill="#2b2b2b" font-weight="normal" letter-spacing="0.656">Modelo</text>
<text transform="translate(397.00,15.00) scale(0.850,1)" font-size="11.5" fill="#2b2b2b" font-weight="normal" letter-spacing="0.214">GFS</text>
<text transform="translate(424.50,15.00) scale(0.997,1)" font-size="11.5" fill="#2b2b2b" font-weight="normal" letter-spacing="0.650">0.25</text>
<text transform="translate(597.00,15.00) scale(0.955,1)" font-size="11.5" fill="#2b2b2b" font-weight="normal" letter-spacing="0.521">Previsao:</text>
<text transform="translate(651.00,15.00) scale(1.150,1)" font-size="11.5" fill="#2b2b2b" font-weight="normal" letter-spacing="0.690">16/02/23</text>
<text transform="translate(717.60,15.00) scale(0.850,1)" font-size="11.5" fill="#2b2b2b" font-weight="normal" letter-spacing="0.390">18z</text>
<text transform="translate(743.60,15.00) scale(1.079,1)" font-size="11.5" fill="#2b2b2b" font-weight="normal" letter-spacing="0.578">(+036h)</text>
<text transform="translate(157.10,32.30) scale(1.078,1)" font-size="11" fill="#5a5a5a" font-weight="normal" letter-spacing="0.558">Parametro</text>
<text transform="translate(224.00,32.30) scale(0.850,1)" font-size="11" fill="#5a5a5a" font-weight="normal" letter-spacing="0.731">de</text>
<text transform="translate(242.60,32.30) scale(1.029,1)" font-size="11" fill="#5a5a5a" font-weight="normal" letter-spacing="0.576">Tornado</text>
<text transform="translate(294.60,32.30) scale(1.095,1)" font-size="11" fill="#5a5a5a" font-weight="normal" letter-spacing="0.426">Significativo</text>
<text transform="translate(370.50,32.30) scale(0.850,1)" font-size="11" fill="#5a5a5a" font-weight="normal" letter-spacing="0.311">e</text>
<text transform="translate(381.80,32.30) scale(1.024,1)" font-size="11" fill="#5a5a5a" font-weight="normal" letter-spacing="0.511">Indice</text>
<text transform="translate(421.80,32.30) scale(0.897,1)" font-size="11" fill="#5a5a5a" font-weight="normal" letter-spacing="1.062">de</text>
<text transform="translate(441.75,32.30) scale(0.993,1)" font-size="11" fill="#5a5a5a" font-weight="normal" letter-spacing="0.550">Energia</text>
<text transform="translate(490.75,32.30) scale(0.984,1)" font-size="11" fill="#5a5a5a" font-weight="normal" letter-spacing="0.496">Helicidade</text>
<text transform="translate(553.75,32.30) scale(1.083,1)" font-size="11" fill="#5a5a5a" font-weight="normal" letter-spacing="0.725">0&#8722;1km</text>
<text transform="translate(601.00,32.30) scale(1.053,1)" font-size="11" fill="#5a5a5a" font-weight="normal" letter-spacing="0.448">(linhas)</text>
<line x1="70" y1="42.50" x2="72.5" y2="42.50" stroke="#1a1a1a" stroke-width="1.2"/>
<text transform="translate(54.20,45.70) scale(0.850,1)" font-size="8.6" fill="#333" font-weight="normal" letter-spacing="0.228">22S</text>
<line x1="70" y1="84.92" x2="72.5" y2="84.92" stroke="#1a1a1a" stroke-width="1.2"/>
<text transform="translate(54.20,88.12) scale(0.850,1)" font-size="8.6" fill="#333" font-weight="normal" letter-spacing="0.228">23S</text>
<line x1="70" y1="127.33" x2="72.5" y2="127.33" stroke="#1a1a1a" stroke-width="1.2"/>
<text transform="translate(54.20,130.53) scale(0.850,1)" font-size="8.6" fill="#333" font-weight="normal" letter-spacing="0.228">24S</text>
<line x1="70" y1="169.75" x2="72.5" y2="169.75" stroke="#1a1a1a" stroke-width="1.2"/>
<text transform="translate(54.20,172.95) scale(0.850,1)" font-size="8.6" fill="#333" font-weight="normal" letter-spacing="0.228">25S</text>
<line x1="70" y1="212.17" x2="72.5" y2="212.17" stroke="#1a1a1a" stroke-width="1.2"/>
<text transform="translate(54.20,215.37) scale(0.850,1)" font-size="8.6" fill="#333" font-weight="normal" letter-spacing="0.228">26S</text>
<line x1="70" y1="254.58" x2="72.5" y2="254.58" stroke="#1a1a1a" stroke-width="1.2"/>
<text transform="translate(54.20,257.78) scale(0.850,1)" font-size="8.6" fill="#333" font-weight="normal" letter-spacing="0.228">27S</text>
<line x1="70" y1="297.00" x2="72.5" y2="297.00" stroke="#1a1a1a" stroke-width="1.2"/>
<text transform="translate(54.20,300.20) scale(0.850,1)" font-size="8.6" fill="#333" font-weight="normal" letter-spacing="0.228">28S</text>
<line x1="70" y1="339.42" x2="72.5" y2="339.42" stroke="#1a1a1a" stroke-width="1.2"/>
<text transform="translate(54.20,342.62) scale(0.850,1)" font-size="8.6" fill="#333" font-weight="normal" letter-spacing="0.228">29S</text>
<line x1="70" y1="381.83" x2="72.5" y2="381.83" stroke="#1a1a1a" stroke-width="1.2"/>
<text transform="translate(54.20,385.03) scale(0.850,1)" font-size="8.6" fill="#333" font-weight="normal" letter-spacing="0.228">30S</text>
<line x1="70" y1="424.25" x2="72.5" y2="424.25" stroke="#1a1a1a" stroke-width="1.2"/>
<text transform="translate(54.20,427.45) scale(0.850,1)" font-size="8.6" fill="#333" font-weight="normal" letter-spacing="0.228">31S</text>
<line x1="70" y1="466.67" x2="72.5" y2="466.67" stroke="#1a1a1a" stroke-width="1.2"/>
<text transform="translate(54.20,469.87) scale(0.850,1)" font-size="8.6" fill="#333" font-weight="normal" letter-spacing="0.228">32S</text>
<line x1="70" y1="509.08" x2="72.5" y2="509.08" stroke="#1a1a1a" stroke-width="1.2"/>
<text transform="translate(54.20,512.28) scale(0.850,1)" font-size="8.6" fill="#333" font-weight="normal" letter-spacing="0.228">33S</text>
<line x1="70" y1="551.50" x2="72.5" y2="551.50" stroke="#1a1a1a" stroke-width="1.2"/>
<text transform="translate(54.20,554.70) scale(0.850,1)" font-size="8.6" fill="#333" font-weight="normal" letter-spacing="0.228">34S</text>
<line x1="72.50" y1="551.5" x2="72.50" y2="553.8" stroke="#1a1a1a" stroke-width="1.2"/>
<text transform="translate(65.90,560.80) scale(0.850,1)" font-size="8.6" fill="#333" font-weight="normal" letter-spacing="-0.564">62W</text>
<line x1="145.28" y1="551.5" x2="145.28" y2="553.8" stroke="#1a1a1a" stroke-width="1.2"/>
<text transform="translate(138.68,560.80) scale(0.850,1)" font-size="8.6" fill="#333" font-weight="normal" letter-spacing="-0.564">60W</text>
<line x1="218.06" y1="551.5" x2="218.06" y2="553.8" stroke="#1a1a1a" stroke-width="1.2"/>
<text transform="translate(211.46,560.80) scale(0.850,1)" font-size="8.6" fill="#333" font-weight="normal" letter-spacing="-0.564">58W</text>
<line x1="290.83" y1="551.5" x2="290.83" y2="553.8" stroke="#1a1a1a" stroke-width="1.2"/>
<text transform="translate(284.23,560.80) scale(0.850,1)" font-size="8.6" fill="#333" font-weight="normal" letter-spacing="-0.564">56W</text>
<line x1="363.61" y1="551.5" x2="363.61" y2="553.8" stroke="#1a1a1a" stroke-width="1.2"/>
<text transform="translate(357.01,560.80) scale(0.850,1)" font-size="8.6" fill="#333" font-weight="normal" letter-spacing="-0.564">54W</text>
<line x1="436.39" y1="551.5" x2="436.39" y2="553.8" stroke="#1a1a1a" stroke-width="1.2"/>
<text transform="translate(429.79,560.80) scale(0.850,1)" font-size="8.6" fill="#333" font-weight="normal" letter-spacing="-0.564">52W</text>
<line x1="509.17" y1="551.5" x2="509.17" y2="553.8" stroke="#1a1a1a" stroke-width="1.2"/>
<text transform="translate(502.57,560.80) scale(0.850,1)" font-size="8.6" fill="#333" font-weight="normal" letter-spacing="-0.564">50W</text>
<line x1="581.94" y1="551.5" x2="581.94" y2="553.8" stroke="#1a1a1a" stroke-width="1.2"/>
<text transform="translate(575.34,560.80) scale(0.850,1)" font-size="8.6" fill="#333" font-weight="normal" letter-spacing="-0.564">48W</text>
<line x1="654.72" y1="551.5" x2="654.72" y2="553.8" stroke="#1a1a1a" stroke-width="1.2"/>
<text transform="translate(648.12,560.80) scale(0.850,1)" font-size="8.6" fill="#333" font-weight="normal" letter-spacing="-0.564">46W</text>
<line x1="727.50" y1="551.5" x2="727.50" y2="553.8" stroke="#1a1a1a" stroke-width="1.2"/>
<text transform="translate(720.90,560.80) scale(0.850,1)" font-size="8.6" fill="#333" font-weight="normal" letter-spacing="-0.564">44W</text>
<rect x="36.25" y="572.4" width="39.45" height="14.2" fill="#FFFFFF" stroke="#3a3a3a" stroke-width="0.9"/>
<rect x="75.70" y="572.4" width="39.45" height="14.2" fill="#FFEFA5" stroke="#3a3a3a" stroke-width="0.9"/>
<rect x="115.14" y="572.4" width="39.45" height="14.2" fill="#FFE14B" stroke="#3a3a3a" stroke-width="0.9"/>
<rect x="154.59" y="572.4" width="39.45" height="14.2" fill="#FFC30D" stroke="#3a3a3a" stroke-width="0.9"/>
<rect x="194.03" y="572.4" width="39.45" height="14.2" fill="#FF7800" stroke="#3a3a3a" stroke-width="0.9"/>
<rect x="233.48" y="572.4" width="39.45" height="14.2" fill="#FF2800" stroke="#3a3a3a" stroke-width="0.9"/>
<rect x="272.93" y="572.4" width="39.45" height="14.2" fill="#F50A0A" stroke="#3a3a3a" stroke-width="0.9"/>
<rect x="312.37" y="572.4" width="39.45" height="14.2" fill="#E6142D" stroke="#3a3a3a" stroke-width="0.9"/>
<rect x="351.82" y="572.4" width="39.45" height="14.2" fill="#DC143C" stroke="#3a3a3a" stroke-width="0.9"/>
<rect x="391.26" y="572.4" width="39.45" height="14.2" fill="#E12D5F" stroke="#3a3a3a" stroke-width="0.9"/>
<rect x="430.71" y="572.4" width="39.45" height="14.2" fill="#EB4B87" stroke="#3a3a3a" stroke-width="0.9"/>
<rect x="470.15" y="572.4" width="39.45" height="14.2" fill="#FF69B4" stroke="#3a3a3a" stroke-width="0.9"/>
<text transform="translate(64.70,596.70) scale(1.150,1)" font-size="9" fill="#555" font-weight="normal" letter-spacing="0.527">0.25</text>
<text transform="translate(107.39,596.70) scale(1.140,1)" font-size="9" fill="#555" font-weight="normal" letter-spacing="0.544">0.5</text>
<text transform="translate(143.59,596.70) scale(1.150,1)" font-size="9" fill="#555" font-weight="normal" letter-spacing="0.527">0.75</text>
<text transform="translate(192.28,596.70) scale(0.850,1)" font-size="9" fill="#555" font-weight="normal" letter-spacing="-0.922">1</text>
<text transform="translate(226.23,596.70) scale(1.066,1)" font-size="9" fill="#555" font-weight="normal" letter-spacing="0.544">1.5</text>
<text transform="translate(269.93,596.70) scale(1.095,1)" font-size="9" fill="#555" font-weight="normal" letter-spacing="0.438">2</text>
<text transform="translate(309.37,596.70) scale(1.095,1)" font-size="9" fill="#555" font-weight="normal" letter-spacing="0.438">3</text>
<text transform="translate(348.62,596.70) scale(1.150,1)" font-size="9" fill="#555" font-weight="normal" letter-spacing="0.525">4</text>
<text transform="translate(388.26,596.70) scale(1.095,1)" font-size="9" fill="#555" font-weight="normal" letter-spacing="0.438">5</text>
<text transform="translate(422.96,596.70) scale(1.140,1)" font-size="9" fill="#555" font-weight="normal" letter-spacing="0.544">7.5</text>
<text transform="translate(464.40,596.70) scale(1.059,1)" font-size="9" fill="#555" font-weight="normal" letter-spacing="0.869">10</text>
<text transform="translate(531.00,575.70) scale(1.150,1)" font-size="9" fill="#555" font-weight="normal" letter-spacing="0.527">Valores</text>
<text transform="translate(575.00,575.70) scale(1.016,1)" font-size="9" fill="#555" font-weight="normal" letter-spacing="0.630">das</text>
<text transform="translate(597.00,575.70) scale(1.111,1)" font-size="9" fill="#555" font-weight="normal" letter-spacing="0.420">Linhas:</text>
<text transform="translate(519.60,584.50) scale(1.150,1)" font-size="9" fill="#3C96F0" font-weight="normal" letter-spacing="0.873">&#8722;0.5</text>
<text transform="translate(546.40,584.50) scale(1.058,1)" font-size="9" fill="#2446C8" font-weight="normal" letter-spacing="0.892">&#8722;1</text>
<text transform="translate(563.00,584.50) scale(1.150,1)" font-size="9" fill="#28288C" font-weight="normal" letter-spacing="0.931">&#8722;1.5</text>
<text transform="translate(590.00,584.50) scale(1.150,1)" font-size="9" fill="#A08228" font-weight="normal" letter-spacing="1.566">&#8722;2</text>
<text transform="translate(607.00,584.50) scale(1.150,1)" font-size="9" fill="#32A032" font-weight="normal" letter-spacing="0.815">&#8722;2.5</text>
<text transform="translate(634.00,584.50) scale(1.150,1)" font-size="9" fill="#3C3C14" font-weight="normal" letter-spacing="1.044">&#8722;3</text>
<g>
<defs><clipPath id="gl"><ellipse cx="727.8" cy="586.4" rx="12.1" ry="9.8"/></clipPath></defs>
<path d="M704.6,588.6 C707,590.5 712,592 719,592.6 L724,594.2 C715,594.6 706.5,592.6 704.6,588.6 Z" fill="#A8D6F6"/>
<path d="M704.7,586.2 C707,584.4 711,583.6 713.2,584.4 C714.8,585.4 716,587.6 719.5,589.6 L722,591 C714,591.4 707,590 704.7,586.2 Z" fill="#1E96DC"/>
<ellipse cx="727.8" cy="586.4" rx="12.1" ry="9.8" fill="#3C4FB8"/>
<g clip-path="url(#gl)">
<ellipse cx="723.6" cy="584.3" rx="8.2" ry="7.1" fill="#1E96DC"/>
<path d="M716,589 L730,590.4 L724,592 L716,591 Z" fill="#1E96DC"/>
<rect x="719" y="590.7" width="19" height="0.7" fill="#8CC4EE"/>
<rect x="720" y="593.2" width="17" height="0.8" fill="#D8E8FA"/>
<rect x="716" y="594.6" width="24" height="2" fill="#1C2A7A"/>
</g>
<text transform="translate(744.90,589.70) scale(1.100,1)" font-size="11.3" fill="#1E96DC" font-weight="bold" letter-spacing="0.124">MET</text>
<text transform="translate(772.00,589.70) scale(1.000,1)" font-size="11.3" fill="#3A40A8" font-weight="bold" letter-spacing="0.650">SUL</text>
<rect x="749.40" y="591.9" width="2.3" height="1.6" fill="#8C94C4"/>
<rect x="752.90" y="591.9" width="2.3" height="1.6" fill="#8C94C4"/>
<rect x="756.40" y="591.9" width="2.3" height="1.6" fill="#8C94C4"/>
<rect x="759.90" y="591.9" width="2.3" height="1.6" fill="#8C94C4"/>
<rect x="763.40" y="591.9" width="2.3" height="1.6" fill="#8C94C4"/>
<rect x="766.90" y="591.9" width="2.3" height="1.6" fill="#8C94C4"/>
<rect x="770.40" y="591.9" width="2.3" height="1.6" fill="#8C94C4"/>
<rect x="773.90" y="591.9" width="2.3" height="1.6" fill="#8C94C4"/>
<rect x="777.40" y="591.9" width="2.3" height="1.6" fill="#8C94C4"/>
<rect x="780.90" y="591.9" width="2.3" height="1.6" fill="#8C94C4"/>
<rect x="784.40" y="591.9" width="2.3" height="1.6" fill="#8C94C4"/>
<rect x="787.90" y="591.9" width="2.3" height="1.6" fill="#8C94C4"/>
</g>
</g>
</svg></body></html>
